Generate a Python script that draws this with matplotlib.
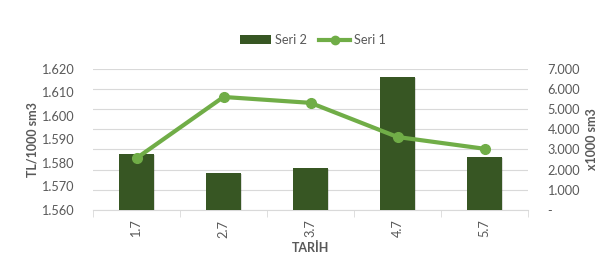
import numpy as np
import matplotlib.pyplot as plt
import matplotlib.patheffects as pe
from matplotlib.ticker import FuncFormatter
from matplotlib.lines import Line2D
from matplotlib.patches import Patch

# Data
tarih = ['1.7', '2.7', '3.7', '4.7', '5.7']
seri1 = [1582, 1608, 1605.5, 1591, 1586]     # TL/1000 sm3 (left axis, line)
seri2 = [2780, 1840, 2090, 6590, 2630]       # x1000 sm3 (right axis, bars)

bar_color = '#375623'
line_color = '#70AD47'
text_color = '#595959'
grid_color = '#D9D9D9'


def tr_thousands(v, pos):
    if abs(v) < 1e-9:
        return '-'
    return f'{v:,.0f}'.replace(',', '.')


plt.rcParams['font.family'] = ['Lato', 'DejaVu Sans']
plt.rcParams['font.size'] = 9

fig = plt.figure(figsize=(6.15, 2.66), dpi=100)
ax_bar = fig.add_axes([93 / 615, 1 - 210 / 266, 435 / 615, 141.3 / 266])
ax_line = ax_bar.twinx()

x = np.arange(len(tarih))

# bars on the right-hand axis, drawn beneath the line axes
ax_bar.bar(x, seri2, width=0.4, color=bar_color, zorder=3,
           path_effects=[pe.SimplePatchShadow(offset=(1, -1), alpha=0.15), pe.Normal()])
ax_bar.set_ylim(0, 7000)
ax_bar.set_yticks(np.arange(0, 7001, 1000))
ax_bar.yaxis.tick_right()
ax_bar.yaxis.set_label_position('right')
ax_bar.yaxis.set_major_formatter(FuncFormatter(tr_thousands))
ax_bar.grid(axis='y', color=grid_color, linewidth=0.8, zorder=0)
ax_bar.set_axisbelow(True)
ax_bar.set_ylabel('x1000 sm3', color=text_color, fontweight='bold', fontsize=9)
ax_bar.yaxis.set_label_coords(1.133, 0.5)

ax_line.plot(x, seri1, color=line_color, linewidth=3, marker='o', markersize=7, zorder=4)
ax_line.set_ylim(1560, 1620)
ax_line.set_yticks(np.arange(1560, 1621, 10))
ax_line.yaxis.tick_left()
ax_line.yaxis.set_label_position('left')
ax_line.yaxis.set_major_formatter(FuncFormatter(tr_thousands))
ax_line.set_ylabel('TL/1000 sm3', color=text_color, fontweight='bold', fontsize=9)
ax_line.yaxis.set_label_coords(-0.126, 0.5)

ax_line.set_zorder(ax_bar.get_zorder() + 1)
ax_line.patch.set_visible(False)

for a in (ax_bar, ax_line):
    for s in a.spines.values():
        s.set_visible(False)
    a.tick_params(axis='y', length=0, colors=text_color, labelsize=9.2, pad=14)

ax_bar.spines['bottom'].set_visible(True)
ax_bar.spines['bottom'].set_color(grid_color)
ax_bar.set_xlim(-0.5, len(tarih) - 0.5)
ax_line.set_xlim(-0.5, len(tarih) - 0.5)
ax_bar.set_xticks(x)
ax_bar.set_xticklabels(tarih, rotation=90)
ax_bar.tick_params(axis='x', which='major', length=0, colors=text_color, labelsize=9.2, pad=7)
ax_bar.set_xticks(np.arange(-0.5, len(tarih) + 0.5, 1), minor=True)
ax_bar.tick_params(axis='x', which='minor', length=5, color=grid_color)
ax_bar.set_xlabel('TARİH', color=text_color, fontweight='bold', fontsize=9, labelpad=3)
ax_line.tick_params(axis='x', length=0, labelbottom=False)

handles = [Patch(facecolor=bar_color, label='Seri 2'),
           Line2D([0], [0], color=line_color, linewidth=3, marker='o', markersize=6, label='Seri 1')]
fig.legend(handles=handles, loc='center', bbox_to_anchor=(313 / 615, 1 - 40 / 266),
           ncol=2, frameon=False, fontsize=9.2, labelcolor=text_color,
           handlelength=2.4, handleheight=0.6, columnspacing=1.0, handletextpad=0.3)

fig.savefig('out.png', dpi=100)
